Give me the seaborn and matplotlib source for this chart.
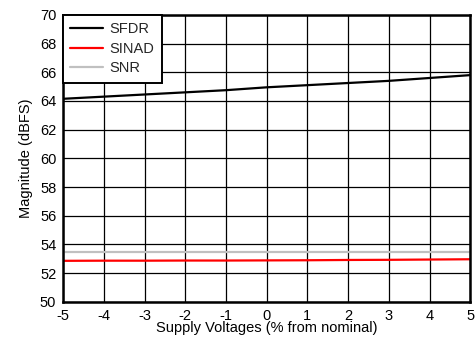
import matplotlib
matplotlib.use("Agg")
import matplotlib.pyplot as plt
import seaborn as sns
import pandas as pd

supply_pct = [-5, -4, -3, -2, -1, 0, 1, 2, 3, 4, 5]
sfdr = [64.15, 64.3, 64.45, 64.6, 64.75, 64.95, 65.1, 65.25, 65.4, 65.6, 65.8]
sinad = [52.86, 52.87, 52.87, 52.88, 52.88, 52.89, 52.90, 52.92, 52.93, 52.95, 52.97]
snr = [53.45, 53.45, 53.45, 53.45, 53.45, 53.45, 53.45, 53.45, 53.45, 53.45, 53.45]

df = pd.DataFrame({
    "x": supply_pct * 3,
    "y": sfdr + sinad + snr,
    "series": ["SFDR"] * 11 + ["SINAD"] * 11 + ["SNR"] * 11,
})

sns.set_theme(style="white")
plt.rcParams["font.family"] = ["Liberation Sans", "DejaVu Sans"]
plt.rcParams["axes.unicode_minus"] = False

fig, ax = plt.subplots(figsize=(4.75, 3.45), dpi=100)
fig.subplots_adjust(left=0.133, right=0.99, top=0.957, bottom=0.125)

palette = {"SFDR": "#000000", "SINAD": "#ff0000", "SNR": "#c0c0c0"}
sns.lineplot(data=df, x="x", y="y", hue="series", palette=palette, ax=ax, linewidth=1.6)

ax.set_xlim(-5, 5)
ax.set_ylim(50, 70)
ax.set_xticks(supply_pct)
ax.set_yticks(range(50, 71, 2))
ax.grid(True, color="black", linewidth=0.9)
ax.set_axisbelow(True)
for s in ax.spines.values():
    s.set_color("black")
    s.set_linewidth(1.8)
ax.tick_params(axis="both", labelsize=10.5, colors="black", length=0, pad=5)
ax.set_xlabel("Supply Voltages (% from nominal)", fontsize=10.5, color="black", labelpad=-1)
ax.set_ylabel("Magnitude (dBFS)", fontsize=10.5, color="black", labelpad=5)

leg = ax.legend(loc="upper left", fontsize=10.5, frameon=True, fancybox=False,
                borderaxespad=0, handlelength=2.2, labelspacing=0.38, borderpad=0.5,
                handletextpad=0.5)
leg.get_frame().set_edgecolor("black")
leg.get_frame().set_linewidth(1.4)
leg.get_frame().set_alpha(1)
leg.set_title(None)

fig.savefig("out.png", dpi=100)
